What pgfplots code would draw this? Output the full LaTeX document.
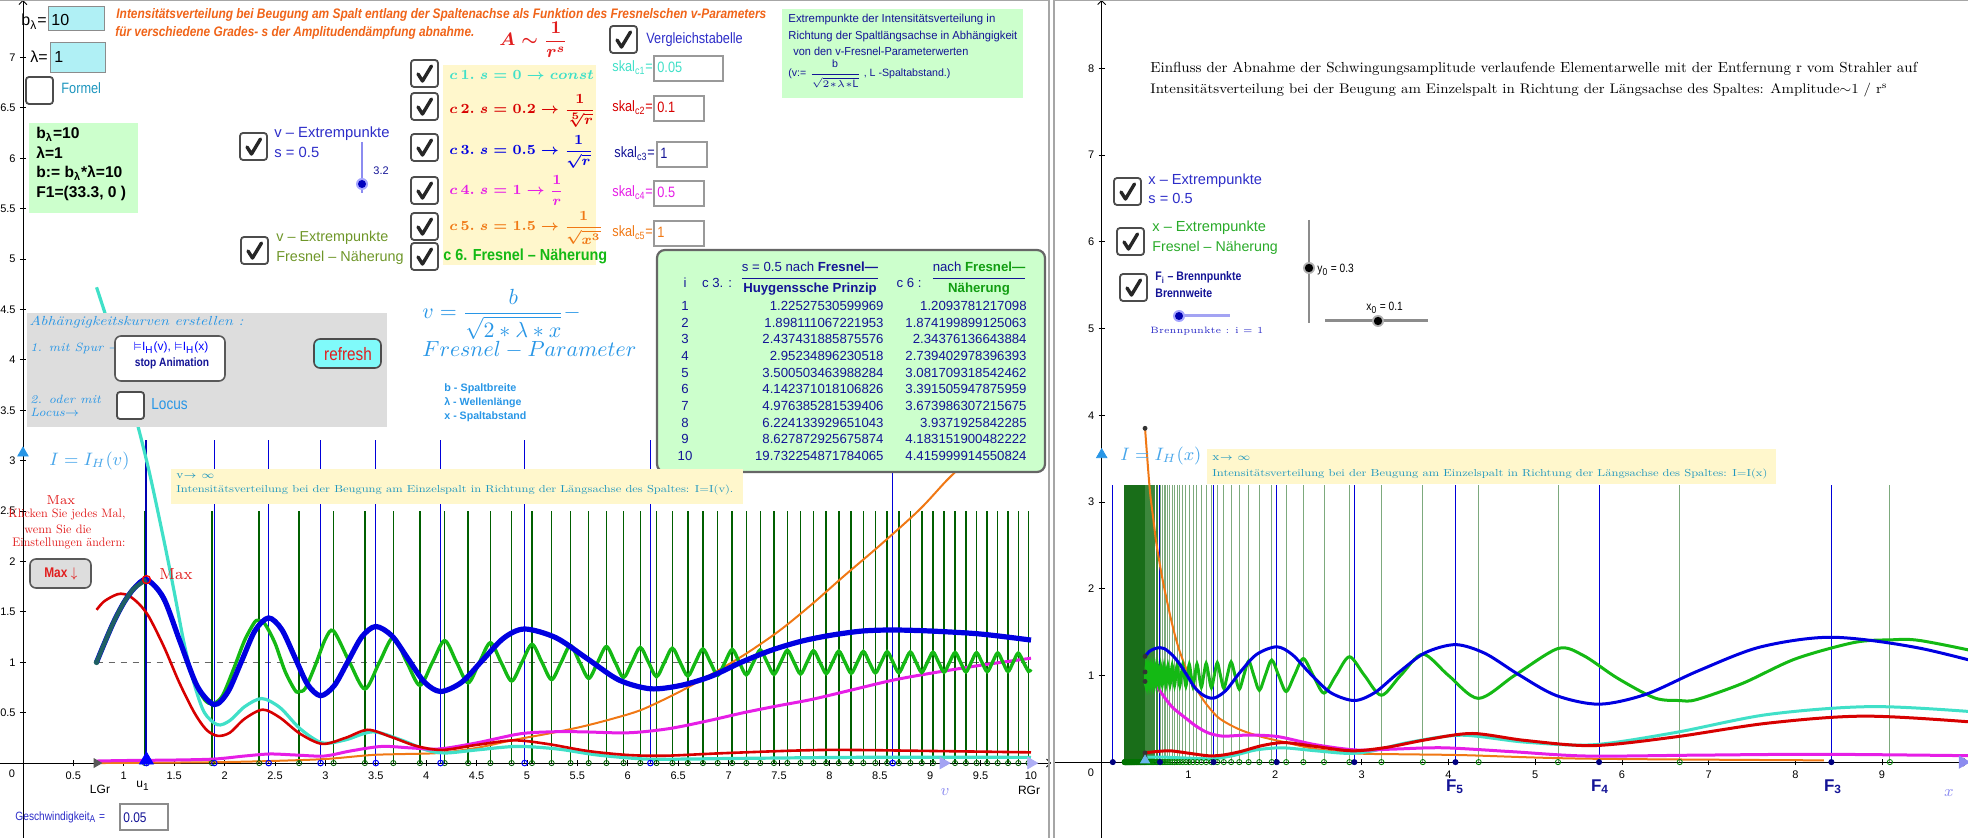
\documentclass[border=0pt]{standalone}
\usepackage{amsmath,amssymb}
\usepackage{graphicx}
\usepackage{pgfplots}
\pgfplotsset{compat=1.18}
\usepackage{pgfplotstable}
\usepackage{fontspec}
\setsansfont{Liberation Sans}
\usetikzlibrary{arrows.meta}

\definecolor{cC}{RGB}{64,224,200}
\definecolor{cR}{RGB}{215,0,0}
\definecolor{cB}{RGB}{0,0,225}
\definecolor{cM}{RGB}{230,30,230}
\definecolor{cO}{RGB}{240,120,20}
\definecolor{cG}{RGB}{20,185,20}
\definecolor{cDG}{RGB}{0,95,0}
\definecolor{cTeal}{RGB}{30,95,100}
\definecolor{gLight}{RGB}{125,170,125}
\definecolor{gMid}{RGB}{60,135,60}
\definecolor{gDark}{RGB}{25,110,25}
\definecolor{tOrange}{RGB}{240,100,25}
\definecolor{tBlue}{RGB}{45,45,200}
\definecolor{tDBlue}{RGB}{20,20,150}
\definecolor{tSky}{RGB}{40,150,230}
\definecolor{tOlive}{RGB}{110,150,40}
\definecolor{tRed}{RGB}{225,30,30}
\definecolor{tGreen}{RGB}{40,170,40}
\definecolor{boxGreen}{RGB}{204,255,204}
\definecolor{boxYellow}{RGB}{255,247,204}
\definecolor{boxGray}{RGB}{221,221,221}
\definecolor{boxCyan}{RGB}{176,240,245}
\definecolor{btnCyan}{RGB}{128,250,250}
\definecolor{tLav}{RGB}{140,140,240}
\definecolor{tTeal}{RGB}{30,150,190}

\newcommand{\myfs}[1]{\fontsize{#1}{#1}\selectfont}
\newcommand{\myfit}[3]{\resizebox{#1pt}{#2pt}{#3}}
\newcommand{\mycz}[1]{\scalebox{0.85}[1]{#1}}
\newcommand{\mychk}[2]{\begin{scope}[shift={(#1,#2)}]
 \draw[rounded corners=1.5pt, line width=0.9pt, draw=black!70, fill=white] (0,0) rectangle (27,27);
 \draw[line width=1.7pt, black!85, line cap=round, line join=round] (7,14) -- (11.5,21) -- (20.5,6);
 \end{scope}}
\newcommand{\myunchk}[2]{\begin{scope}[shift={(#1,#2)}]
 \draw[rounded corners=1.5pt, line width=0.9pt, draw=black!70, fill=white] (0,0) rectangle (27,27);
 \end{scope}}

% ---------------- data (v = Fresnel parameter, I = intensity)
\pgfplotstableread{
v I
0.73 4.72
0.85 4.35
1.00 3.86
1.10 3.50
1.25 2.90
1.40 2.20
1.50 1.70
1.60 1.18
1.70 0.78
1.80 0.50
1.93 0.38
2.05 0.42
2.20 0.56
2.37 0.64
2.55 0.55
2.75 0.34
2.97 0.20
3.20 0.23
3.47 0.31
3.75 0.23
4.00 0.13
4.19 0.10
4.50 0.13
4.90 0.165
5.30 0.14
5.70 0.08
6.17 0.04
6.60 0.04
7.00 0.045
7.50 0.05
8.00 0.055
8.60 0.058
9.20 0.058
10.0 0.056
}\tC

\pgfplotstableread{
v I
0.73 1.52
0.80 1.60
0.90 1.66
0.97 1.68
1.05 1.66
1.15 1.58
1.25 1.45
1.40 1.15
1.55 0.80
1.70 0.50
1.82 0.33
1.93 0.27
2.05 0.30
2.20 0.44
2.38 0.53
2.55 0.45
2.75 0.29
2.97 0.19
3.20 0.25
3.42 0.33
3.65 0.26
3.90 0.17
4.16 0.13
4.50 0.18
4.87 0.225
5.20 0.19
5.60 0.12
6.00 0.08
6.38 0.073
7.00 0.10
7.95 0.13
9.00 0.12
10.0 0.106
}\tR

\pgfplotstableread{
v I
0.73 0.02
1.00 0.025
1.50 0.03
1.90 0.04
2.20 0.07
2.45 0.09
2.70 0.08
2.99 0.07
3.25 0.12
3.56 0.165
3.85 0.15
4.13 0.14
4.50 0.20
4.93 0.29
5.25 0.31
5.54 0.31
6.00 0.30
6.40 0.34
6.80 0.42
7.15 0.50
7.50 0.57
7.82 0.63
8.20 0.72
8.62 0.82
9.00 0.89
9.50 0.97
10.0 1.04
}\tM

\pgfplotstableread{
v I
0.73 0.00
1.50 0.005
2.00 0.01
2.45 0.02
3.00 0.04
3.46 0.08
3.80 0.09
4.13 0.10
4.50 0.15
4.87 0.23
5.20 0.29
5.54 0.36
5.85 0.44
6.14 0.53
6.50 0.70
6.81 0.87
7.15 1.07
7.50 1.31
7.82 1.57
8.15 1.86
8.49 2.15
8.89 2.51
9.16 2.80
9.50 3.15
10.0 3.85
}\tO

\pgfplotstableread{
v I
0.73 1.00
0.80 1.17
0.90 1.40
1.00 1.59
1.10 1.73
1.225 1.82
1.393 1.64
1.56 1.20
1.73 0.76
1.898 0.58
2.033 0.706
2.168 1.01
2.302 1.314
2.437 1.44
2.566 1.327
2.695 1.054
2.823 0.781
2.952 0.668
3.089 0.769
3.226 1.012
3.363 1.254
3.500 1.355
3.661 1.261
3.821 1.033
3.982 0.804
4.142 0.71
4.351 0.801
4.559 1.02
4.768 1.239
4.976 1.33
5.288 1.243
5.600 1.034
5.912 0.824
6.224 0.737
6.525 0.77
6.825 0.86
7.126 1.0
7.426 1.12
7.727 1.21
8.027 1.27
8.330 1.31
8.628 1.32
9.0 1.31
9.5 1.28
10.0 1.22
}\tB

\pgfplotstableread{
v I
0.73 1.00
0.80 1.17
0.90 1.40
1.00 1.59
1.10 1.73
1.225 1.82
}\tT

\pgfplotstableread{
v I
0.73 1.00
0.80 1.17
0.90 1.40
1.00 1.60
1.10 1.74
1.209 1.80
1.30 1.76
1.40 1.61
1.50 1.37
1.60 1.08
1.70 0.81
1.80 0.63
1.874 0.585
1.95 0.63
2.00 0.71
2.10 0.96
2.20 1.22
2.30 1.40
2.344 1.41
2.40 1.38
2.50 1.19
2.60 0.91
2.70 0.72
2.739 0.71
2.80 0.74
2.90 0.97
3.00 1.23
3.082 1.31
3.240 1.00
3.392 0.735
3.536 1.00
3.674 1.245
3.808 1.00
3.937 0.771
4.062 1.00
4.183 1.215
4.301 1.00
4.416 0.796
4.528 1.00
4.637 1.194
4.743 1.00
4.848 0.814
4.950 1.00
5.050 1.178
5.148 1.00
5.244 0.828
5.339 1.00
5.431 1.166
5.523 1.00
5.613 0.840
5.701 1.00
5.788 1.156
5.874 1.00
5.958 0.849
6.042 1.00
6.124 1.147
6.205 1.00
6.285 0.857
6.364 1.00
6.442 1.140
6.519 1.00
6.596 0.863
6.671 1.00
6.745 1.133
6.819 1.00
6.892 0.869
6.964 1.00
7.036 1.128
7.106 1.00
7.176 0.875
7.246 1.00
7.314 1.123
7.382 1.00
7.450 0.879
7.517 1.00
7.583 1.119
7.649 1.00
7.714 0.883
7.778 1.00
7.842 1.115
7.906 1.00
7.969 0.887
8.031 1.00
8.093 1.111
8.155 1.00
8.216 0.890
8.277 1.00
8.337 1.108
8.396 1.00
8.456 0.894
8.515 1.00
8.573 1.105
8.631 1.00
8.689 0.896
8.746 1.00
8.803 1.102
8.860 1.00
8.916 0.899
8.972 1.00
9.028 1.100
9.083 1.00
9.138 0.901
9.192 1.00
9.247 1.097
9.301 1.00
9.354 0.904
9.407 1.00
9.460 1.095
9.513 1.00
9.566 0.906
9.618 1.00
9.670 1.093
9.721 1.00
9.772 0.908
9.823 1.00
9.874 1.091
9.925 1.00
9.975 0.910
10.0 0.93
}\tG

\pgfplotstableread{
v h z
1.2094 2.5 0
1.8742 2.5 0
2.3438 2.5 0
2.7394 2.5 0
3.0817 2.5 0
3.3915 2.5 0
3.6740 2.5 0
3.9372 2.5 0
4.1832 2.5 0
4.4160 2.5 0
4.6368 2.5 0
4.8477 2.5 0
5.0498 2.5 0
5.2440 2.5 0
5.4314 2.5 0
5.6125 2.5 0
5.7879 2.5 0
5.9582 2.5 0
6.1237 2.5 0
6.2849 2.5 0
6.4420 2.5 0
6.5955 2.5 0
6.7454 2.5 0
6.8920 2.5 0
7.0356 2.5 0
7.1764 2.5 0
7.3144 2.5 0
7.4498 2.5 0
7.5829 2.5 0
7.7136 2.5 0
7.8422 2.5 0
7.9687 2.5 0
8.0932 2.5 0
8.2158 2.5 0
8.3367 2.5 0
8.4558 2.5 0
8.5732 2.5 0
8.6891 2.5 0
8.8034 2.5 0
8.9163 2.5 0
9.0277 2.5 0
9.1378 2.5 0
9.2466 2.5 0
9.3541 2.5 0
9.4604 2.5 0
9.5656 2.5 0
9.6695 2.5 0
9.7724 2.5 0
9.8742 2.5 0
9.9750 2.5 0
}\gL

\pgfplotstableread{
v h z
1.2253 3.2 0
1.8981 3.2 0
2.4374 3.2 0
2.9523 3.2 0
3.5005 3.2 0
4.1424 3.2 0
4.9764 3.2 0
6.2241 3.2 0
8.6279 3.2 0
}\bL

% right panel: Fresnel extremes, x = position along the slit axis
\pgfplotstableread{
x h z
9.091 3.2 0
6.667 3.2 0
5.263 3.2 0
4.348 3.2 0
3.704 3.2 0
3.226 3.2 0
2.857 3.2 0
2.564 3.2 0
2.326 3.2 0
2.128 3.2 0
1.961 3.2 0
1.818 3.2 0
1.695 3.2 0
1.587 3.2 0
1.493 3.2 0
1.408 3.2 0
1.333 3.2 0
1.266 3.2 0
1.205 3.2 0
1.149 3.2 0
1.099 3.2 0
1.053 3.2 0
1.010 3.2 0
0.971 3.2 0
0.935 3.2 0
0.901 3.2 0
0.870 3.2 0
0.840 3.2 0
0.813 3.2 0
0.787 3.2 0
0.763 3.2 0
0.741 3.2 0
0.719 3.2 0
0.699 3.2 0
0.680 3.2 0
0.662 3.2 0
}\gRa

\pgfplotstableread{
x h z
0.645 3.2 0
0.629 3.2 0
0.613 3.2 0
0.599 3.2 0
0.585 3.2 0
0.571 3.2 0
0.559 3.2 0
0.546 3.2 0
0.535 3.2 0
0.524 3.2 0
0.513 3.2 0
0.503 3.2 0
}\gRb

\pgfplotstableread{
x h z
0.493 3.2 0
0.483 3.2 0
0.474 3.2 0
0.465 3.2 0
0.457 3.2 0
0.448 3.2 0
0.441 3.2 0
0.433 3.2 0
0.426 3.2 0
0.418 3.2 0
0.412 3.2 0
0.405 3.2 0
0.398 3.2 0
0.392 3.2 0
0.386 3.2 0
0.380 3.2 0
0.375 3.2 0
0.369 3.2 0
0.364 3.2 0
0.358 3.2 0
0.353 3.2 0
0.348 3.2 0
0.344 3.2 0
0.339 3.2 0
0.334 3.2 0
0.330 3.2 0
0.326 3.2 0
0.322 3.2 0
0.317 3.2 0
0.313 3.2 0
0.310 3.2 0
0.306 3.2 0
0.302 3.2 0
0.299 3.2 0
0.295 3.2 0
0.292 3.2 0
0.288 3.2 0
0.285 3.2 0
0.282 3.2 0
0.279 3.2 0
0.275 3.2 0
0.272 3.2 0
0.270 3.2 0
0.267 3.2 0
0.264 3.2 0
}\gRc

\pgfplotstableread{
x h z
0.1284 3.2 0
0.6717 3.2 0
1.2907 3.2 0
2.0191 3.2 0
2.9139 3.2 0
4.0805 3.2 0
5.7365 3.2 0
8.416 3.2 0
}\bR

\begin{document}
\begin{tikzpicture}
\useasboundingbox (0,0) rectangle (984pt,-419pt);

% ================= LEFT PANEL =================
\begin{axis}[
 at={(0pt,0pt)}, anchor=north west,
 x=50.4pt, y=50.4pt,
 xmin=-0.228, xmax=10.2, ymin=-0.745, ymax=7.57,
 axis lines=middle,
 axis line style={black, line width=0.45pt},
 x axis line style={-{Straight Barb[length=2pt,width=4pt]}},
 y axis line style={-{Straight Barb[length=2pt,width=4pt]}},
 xtick={0.5,1,1.5,2,2.5,3,3.5,4,4.5,5,5.5,6,6.5,7,7.5,8,8.5,9,9.5,10},
 ytick={0.5,1,1.5,2,2.5,3,3.5,4,4.5,5,5.5,6,6.5,7},
 major tick length=3pt,
 tick style={black, line width=0.4pt},
 tick label style={font=\sffamily\fontsize{5.5}{6}\selectfont},
 /pgf/number format/assume math mode=true,
 xticklabel style={inner sep=1pt, yshift=-1.5pt},
 yticklabel style={inner sep=1pt, xshift=-1pt},
]
\addplot[black!60, dashed, line width=0.5pt] coordinates {(0.73,1) (10,1)};
\addplot[ycomb, cDG, line width=0.75pt] table[x=v,y=h] \gL;
\addplot[ycomb, blue!85!black, line width=0.45pt] table[x=v,y=h] \bL;
\addplot[ycomb, blue!70!black, line width=1pt] coordinates {(1.2253,3.2)};
\addplot[cO, line width=1pt, smooth] table[x=v,y=I] \tO;
\addplot[cC, line width=1.6pt, smooth] table[x=v,y=I] \tC;
\addplot[cM, line width=1.5pt, smooth] table[x=v,y=I] \tM;
\addplot[cR, line width=1.3pt, smooth] table[x=v,y=I] \tR;
\addplot[cG, line width=1.7pt, smooth] table[x=v,y=I] \tG;
\addplot[cB, line width=2.6pt, smooth] table[x=v,y=I] \tB;
\addplot[cTeal, line width=2.2pt, smooth] table[x=v,y=I] \tT;
\addplot[only marks, mark=o, mark size=1.3pt, cDG, mark options={line width=0.4pt}] table[x=v,y=z] \gL;
\addplot[only marks, mark=o, mark size=1.4pt, blue, mark options={line width=0.5pt}] table[x=v,y=z] \bL;
\addplot[only marks, mark=o, mark size=2pt, red, mark options={line width=0.7pt}] coordinates {(1.225,1.82)};
\addplot[only marks, mark=*, mark size=1.2pt, cTeal] coordinates {(0.73,1.0)};
\addplot[only marks, mark=triangle*, mark size=4pt, blue] coordinates {(1.225,0.03)};
\addplot[only marks, mark=triangle*, mark size=2.5pt, black!65, mark options={rotate=-90}] coordinates {(0.73,0)};
\addplot[only marks, mark=triangle*, mark size=3.3pt, tLav!80, mark options={rotate=-90}] coordinates {(9.13,0)};
\addplot[only marks, mark=triangle*, mark size=3.3pt, tLav!70, mark options={rotate=-90}] coordinates {(10,0)};
\addplot[only marks, mark=triangle*, mark size=3pt, tSky] coordinates {(0,3.075)};
\end{axis}

% ================= RIGHT PANEL =================
\begin{axis}[
 at={(527pt,0pt)}, anchor=north west,
 x=43.35pt, y=43.35pt,
 xmin=-0.55, xmax=9.99, ymin=-0.874, ymax=8.79,
 axis lines=middle,
 axis line style={black, line width=0.45pt},
 x axis line style={-{Straight Barb[length=2pt,width=4pt]}},
 y axis line style={-{Straight Barb[length=2pt,width=4pt]}},
 xtick={1,2,3,4,5,6,7,8,9},
 ytick={1,2,3,4,5,6,7,8},
 major tick length=3pt,
 tick style={black, line width=0.4pt},
 tick label style={font=\sffamily\fontsize{5.5}{6}\selectfont},
 /pgf/number format/assume math mode=true,
 xticklabel style={inner sep=1pt, yshift=-1.5pt},
 yticklabel style={inner sep=1pt, xshift=-1pt},
]
\addplot[ycomb, gLight, line width=0.5pt] table[x=x,y=h] \gRa;
\addplot[ycomb, gMid, line width=0.6pt] table[x=x,y=h] \gRb;
\addplot[ycomb, gDark, line width=0.7pt] table[x=x,y=h] \gRc;
\addplot[ycomb, blue!85!black, line width=0.45pt] table[x=x,y=h] \bR;
\addplot[cO, line width=1pt, smooth, restrict x to domain=0.3:12] table[x expr={50/(\thisrow{v}*\thisrow{v})}, y=I] \tO;
\addplot[cC, line width=1.5pt, smooth, restrict x to domain=0.3:12] table[x expr={50/(\thisrow{v}*\thisrow{v})}, y=I] \tC;
\addplot[cM, line width=1.5pt, smooth, restrict x to domain=0.3:12] table[x expr={50/(\thisrow{v}*\thisrow{v})}, y=I] \tM;
\addplot[cR, line width=1.5pt, smooth, restrict x to domain=0.3:12] table[x expr={50/(\thisrow{v}*\thisrow{v})}, y=I] \tR;
\addplot[cG, line width=1.5pt, smooth, restrict x to domain=0.3:12] table[x expr={50/(\thisrow{v}*\thisrow{v})}, y=I] \tG;
\addplot[cB, line width=1.5pt, smooth, restrict x to domain=0.3:12] table[x expr={50/(\thisrow{v}*\thisrow{v})}, y=I] \tB;
\addplot[only marks, mark=o, mark size=1.3pt, green!50!black, mark options={line width=0.4pt}] table[x=x,y=z] \gRa;
\addplot[only marks, mark=o, mark size=1.3pt, green!50!black, mark options={line width=0.4pt}] table[x=x,y=z] \gRb;
\addplot[only marks, mark=o, mark size=1.3pt, green!45!black, mark options={line width=0.4pt}] table[x=x,y=z] \gRc;
\addplot[only marks, mark=*, mark size=1.3pt, blue!50!black] table[x=x,y=z] \bR;
\addplot[only marks, mark=*, mark size=1pt, black!80] coordinates {(0.5,3.85) (0.5,1.22) (0.5,1.04) (0.5,0.93) (0.5,0.106) (0.5,0.056)};
\addplot[only marks, mark=triangle*, mark size=2.6pt, tSky!70] coordinates {(0.5,0.02)};
\addplot[only marks, mark=triangle*, mark size=3.5pt, tLav, mark options={rotate=-90}] coordinates {(9.93,0)};
\addplot[only marks, mark=triangle*, mark size=3pt, tSky] coordinates {(0,3.545)};
\end{axis}

\begin{scope}[x=0.5pt,y=-0.5pt]
\draw[black!35, line width=0.6pt] (0,0.6) -- (1049,0.6) -- (1049,838);
\draw[black!35, line width=0.6pt] (1054,838) -- (1054,0.6) -- (1968,0.6);

\node[inner sep=0] at (12,774) {\sffamily\myfs{5.5}0};
\node[inner sep=0] at (1091,773) {\sffamily\myfs{5.5}0};

\node[anchor=base west, inner sep=0, text=tOrange] at (116,19) {\myfit{325}{5}{\sffamily\bfseries\itshape Intensitätsverteilung bei Beugung am Spalt entlang der Spaltenachse als Funktion des Fresnelschen v-Parameters}};
\node[anchor=base west, inner sep=0, text=tOrange] at (115,37) {\myfit{179.5}{5}{\sffamily\bfseries\itshape für verschiedene Grades- s der Amplitudendämpfung abnahme.}};

\draw[black!45, line width=0.5pt, fill=boxCyan] (48,7) rectangle (104,31);
\node[anchor=base west, inner sep=0] at (51,26) {\sffamily\myfs{8}10};
\node[anchor=base east, inner sep=0] at (47,26) {\sffamily\myfs{8}b\textsubscript{λ}=};
\draw[black!45, line width=0.5pt, fill=boxCyan] (50,43) rectangle (105,73);
\node[anchor=base west, inner sep=0] at (54,63) {\sffamily\myfs{8}1};
\node[anchor=base east, inner sep=0] at (48,63) {\sffamily\myfs{8}λ=};
\myunchk{26}{77}
\node[anchor=base west, inner sep=0, text=tTeal] at (61,94) {\mycz{\sffamily\myfs{7.5}Formel}};

\fill[boxGreen] (29,123) rectangle (138,213);
\node[anchor=base west, inner sep=0] at (36,139) {\sffamily\bfseries\myfs{7.8}b\textsubscript{λ}=10};
\node[anchor=base west, inner sep=0] at (36,159) {\sffamily\bfseries\myfs{7.8}λ=1};
\node[anchor=base west, inner sep=0] at (36,178) {\sffamily\bfseries\myfs{7.8}b:= b\textsubscript{λ}*λ=10};
\node[anchor=base west, inner sep=0] at (36,198) {\sffamily\bfseries\myfs{7.8}F1=(33.3, 0 )};

\node[anchor=west, inner sep=0, text=tRed] at (499,40) {{\myfs{9}$\boldsymbol{A\sim\dfrac{1}{r^{s}}}$}};

\mychk{610}{26}
\node[anchor=base west, inner sep=0, text=tBlue] at (646,44) {\mycz{\sffamily\myfs{7.5}Vergleichstabelle}};

\fill[boxGreen] (782,9) rectangle (1023,98);
\node[anchor=base west, inner sep=0, text=tDBlue] at (788,23) {\myfit{103.5}{4.2}{\sffamily Extrempunkte der Intensitätsverteilung in}};
\node[anchor=base west, inner sep=0, text=tDBlue] at (788,40) {\myfit{114.5}{4.2}{\sffamily Richtung der Spaltlängsachse in Abhängigkeit}};
\node[anchor=base west, inner sep=0, text=tDBlue] at (793,56) {\myfit{87.5}{4.2}{\sffamily von den v-Fresnel-Parameterwerten}};
\node[anchor=west, inner sep=0, text=tDBlue] at (788,74) {\sffamily\myfs{5.3}(v:= $\dfrac{\text{b}}{\sqrt{2{*}\lambda{*}\text{L}}}$ , L -Spaltabstand.)};

\node[anchor=base west, inner sep=0, text=cC] at (612,72) {\mycz{\sffamily\myfs{7.5}skal\textsubscript{c1}=}};
\draw[black!40, line width=0.6pt, fill=white] (654,56) rectangle (723,81);
\node[anchor=base west, inner sep=0, text=cC] at (657,73) {\mycz{\sffamily\myfs{7.5}0.05}};
\node[anchor=base west, inner sep=0, text=cR] at (612,112) {\mycz{\sffamily\myfs{7.5}skal\textsubscript{c2}=}};
\draw[black!40, line width=0.6pt, fill=white] (654,96) rectangle (704,121);
\node[anchor=base west, inner sep=0, text=cR] at (657,113) {\mycz{\sffamily\myfs{7.5}0.1}};
\node[anchor=base west, inner sep=0, text=tDBlue] at (614,158) {\mycz{\sffamily\myfs{7.5}skal\textsubscript{c3}=}};
\draw[black!40, line width=0.6pt, fill=white] (657,142) rectangle (707,167);
\node[anchor=base west, inner sep=0, text=tDBlue] at (660,159) {\mycz{\sffamily\myfs{7.5}1}};
\node[anchor=base west, inner sep=0, text=cM] at (612,197) {\mycz{\sffamily\myfs{7.5}skal\textsubscript{c4}=}};
\draw[black!40, line width=0.6pt, fill=white] (654,181) rectangle (704,206);
\node[anchor=base west, inner sep=0, text=cM] at (657,198) {\mycz{\sffamily\myfs{7.5}0.5}};
\node[anchor=base west, inner sep=0, text=cO] at (612,237) {\mycz{\sffamily\myfs{7.5}skal\textsubscript{c5}=}};
\draw[black!40, line width=0.6pt, fill=white] (654,221) rectangle (704,246);
\node[anchor=base west, inner sep=0, text=cO] at (657,238) {\mycz{\sffamily\myfs{7.5}1}};

\fill[boxYellow] (443,65) rectangle (596,265);
\mychk{411}{60}
\mychk{411}{93}
\mychk{411}{134}
\mychk{411}{177}
\mychk{411}{213}
\mychk{411}{243}
\node[anchor=base west, inner sep=0, text=cC] at (449,80) {{\myfs{7.5}$\boldsymbol{c\,1.\;s=0\rightarrow const}$}};
\node[anchor=base west, inner sep=0, text=cR] at (449,114) {{\myfs{7.5}$\boldsymbol{c\,2.\;s=0.2\rightarrow\dfrac{1}{\sqrt[5]{r}}}$}};
\node[anchor=base west, inner sep=0, text=cB] at (449,155) {{\myfs{7.5}$\boldsymbol{c\,3.\;s=0.5\rightarrow\dfrac{1}{\sqrt{r}}}$}};
\node[anchor=base west, inner sep=0, text=cM] at (449,195) {{\myfs{7.5}$\boldsymbol{c\,4.\;s=1\rightarrow\dfrac{1}{r}}$}};
\node[anchor=base west, inner sep=0, text=cO] at (449,231) {{\myfs{7.5}$\boldsymbol{c\,5.\;s=1.5\rightarrow\dfrac{1}{\sqrt{x^{3}}}}$}};
\node[anchor=base west, inner sep=0, text=cG] at (443,261) {\scalebox{0.9}[1]{\sffamily\bfseries\myfs{8}c 6. Fresnel – Näherung}};

\mychk{240}{133}
\node[anchor=base west, inner sep=0, text=tBlue] at (274,138) {\sffamily\myfs{7.4}v – Extrempunkte};
\node[anchor=base west, inner sep=0, text=tBlue] at (274,158) {\sffamily\myfs{7.4}s = 0.5};
\draw[tLav, line width=1.2pt] (362,142) -- (362,193);
\fill[blue!35] (362,184) circle (6);
\fill[blue!75!black] (362,184) circle (4);
\node[anchor=base west, inner sep=0, text=tDBlue] at (373,175) {\sffamily\myfs{5.5}3.2};
\mychk{241}{237}
\node[anchor=base west, inner sep=0, text=tOlive] at (276,242) {\sffamily\myfs{7.2}v – Extrempunkte};
\node[anchor=base west, inner sep=0, text=tOlive] at (276,262) {\sffamily\myfs{7.2}Fresnel – Näherung};

\fill[boxGray] (27,313) rectangle (387,427);
\node[anchor=base west, inner sep=0, text=tSky] at (29,326) {\myfit{107}{4.7}{\itshape Abhängigkeitskurven erstellen :}};
\node[anchor=base west, inner sep=0, text=tSky] at (30,352) {\myfs{6}\itshape 1. mit Spur $\rightarrow$};
\draw[rounded corners=3pt, line width=0.8pt, draw=black!65, fill=white] (115,336) rectangle (225,381);
\node[inner sep=0, text=blue] at (171,348) {\sffamily\myfs{6}$\vDash$I\textsubscript{H}(v), $\vDash$I\textsubscript{H}(x)};
\node[inner sep=0, text=tDBlue] at (172,363) {\mycz{\sffamily\bfseries\myfs{6}stop Animation}};
\draw[rounded corners=3pt, line width=0.8pt, draw=black!70, fill=btnCyan] (314,339) rectangle (381,368);
\node[inner sep=0, text=tRed] at (348,354) {\mycz{\sffamily\myfs{9}refresh}};
\node[anchor=base west, inner sep=0, text=tSky] at (30,404) {\myfs{6}\itshape 2. oder mit};
\node[anchor=base west, inner sep=0, text=tSky] at (30,417) {\myfs{6}\itshape Locus$\rightarrow$};
\myunchk{117}{392}
\node[anchor=base west, inner sep=0, text=tSky] at (151,410) {\mycz{\sffamily\myfs{8}Locus}};

\node[anchor=base west, inner sep=0, text=tSky] at (422,319) {\myfs{11}$v=\dfrac{b}{\sqrt{2*\lambda*x}}-$};
\node[anchor=base west, inner sep=0, text=tSky] at (422,357) {\myfs{11}$Fresnel-Parameter$};
\node[anchor=base west, inner sep=0, text=tSky] at (444,392) {\myfit{36}{3.9}{\sffamily\bfseries b - Spaltbreite}};
\node[anchor=base west, inner sep=0, text=tSky] at (444,406) {\myfit{38.5}{3.9}{\sffamily\bfseries λ - Wellenlänge}};
\node[anchor=base west, inner sep=0, text=tSky] at (444,420) {\myfit{41}{3.9}{\sffamily\bfseries x - Spaltabstand}};

\draw[rounded corners=4pt, line width=1.1pt, draw=black!60, fill=boxGreen] (657,250) rectangle (1045,472);
\begin{scope}[every node/.style={inner sep=0, text=tDBlue, font=\sffamily\fontsize{6.6}{7}\selectfont}]
\node at (685,283) {i};
\node at (717,283) {c 3. :};
\node at (810,279) {$\dfrac{\text{s = 0.5 nach \textbf{Fresnel—}}}{\text{\textbf{Huygenssche Prinzip}}}$};
\node at (909,283) {c 6 :};
\node at (979,279) {$\dfrac{\text{nach \textcolor{cG!85!black}{\textbf{Fresnel—}}}}{\text{\textcolor{cG!85!black}{\textbf{Näherung}}}}$};
\foreach \a/\b [count=\k] in {1.22527530599969/1.2093781217098, 1.898111067221953/1.874199899125063, 2.437431885875576/2.34376136643884, 2.95234896230518/2.739402978396393, 3.500503463988284/3.081709318542462, 4.142371018106826/3.391505947875959, 4.976385281539406/3.673986307215675, 6.224133929651043/3.9371925842285, 8.627872925675874/4.183151900482222, 19.732254871784065/4.415999914550824} {
  \node[anchor=base] at (685,{310.5+16.67*(\k-1)}) {\k};
  \node[anchor=base east] at (884,{310.5+16.67*(\k-1)}) {\a};
  \node[anchor=base east] at (1027,{310.5+16.67*(\k-1)}) {\b};
}
\end{scope}

\node[anchor=base west, inner sep=0, text=tSky!85] at (49,466) {\myfs{9}$I=I_H(v)$};
\fill[boxYellow] (171,469) rectangle (743,504);
\node[anchor=base west, inner sep=0, text=tTeal] at (176,479) {\myfs{5.5}v$\rightarrow\infty$};
\node[anchor=base west, inner sep=0, text=tTeal] at (176,493) {\myfit{278.5}{3.8}{Intensitätsverteilung bei der Beugung am Einzelspalt in Richtung der Längsachse des Spaltes: I=I(v).}};

\node[anchor=base, inner sep=0, text=tRed] at (61,505) {\myfs{6.5}Max};
\node[anchor=base west, inner sep=0, text=tRed] at (8,518) {\myfit{58.5}{4.3}{Klicken Sie jedes Mal,}};
\node[anchor=base west, inner sep=0, text=tRed] at (24,534) {\myfit{33.5}{4.3}{wenn Sie die}};
\node[anchor=base west, inner sep=0, text=tRed] at (12,547) {\myfit{56.5}{4.3}{Einstellungen ändern:}};
\draw[rounded corners=3pt, line width=0.8pt, draw=black!65, fill=boxGray] (30,559) rectangle (91,588);
\node[inner sep=0, text=tRed] at (61,574) {\mycz{\sffamily\bfseries\myfs{7}Max $\downarrow$}};
\node[inner sep=0, text=tRed] at (176,574) {\myfs{8}Max};

\node[inner sep=0] at (100,789) {\sffamily\myfs{6}LGr};
\node[inner sep=0] at (143,786) {\sffamily\myfs{6}u\textsubscript{1}};
\node[inner sep=0, text=tLav] at (945,792) {\myfs{8}$v$};
\node[inner sep=0] at (1029,790) {\sffamily\myfs{6}RGr};

\node[anchor=base west, inner sep=0, text=tBlue] at (15,820) {\mycz{\sffamily\myfs{6}Geschwindigkeit\textsubscript{A} =}};
\draw[black!45, line width=0.6pt, fill=white] (120,804) rectangle (168,830);
\node[anchor=base west, inner sep=0, text=tDBlue] at (123,822) {\mycz{\sffamily\myfs{7}0.05}};

\node[anchor=base west, inner sep=0] at (1150,73) {\myfit{383.5}{5.2}{Einfluss der Abnahme der Schwingungsamplitude verlaufende Elementarwelle mit der Entfernung r vom Strahler auf}};
\node[anchor=base west, inner sep=0] at (1150,94) {\myfit{368.5}{5.2}{Intensitätsverteilung bei der Beugung am Einzelspalt in Richtung der Längsachse des Spaltes: Amplitude$\sim$1 / r\textsuperscript{s}}};

\mychk{1114}{178}
\node[anchor=base west, inner sep=0, text=tBlue] at (1148,185) {\sffamily\myfs{7.3}x – Extrempunkte};
\node[anchor=base west, inner sep=0, text=tBlue] at (1148,204) {\sffamily\myfs{7.3}s = 0.5};
\mychk{1117}{228}
\node[anchor=base west, inner sep=0, text=tGreen] at (1152,232) {\sffamily\myfs{7.3}x – Extrempunkte};
\node[anchor=base west, inner sep=0, text=tGreen] at (1152,252) {\sffamily\myfs{7.1}Fresnel – Näherung};
\mychk{1120}{274}
\node[anchor=base west, inner sep=0, text=tDBlue] at (1155,281) {\mycz{\sffamily\bfseries\myfs{6.2}F\textsubscript{i} – Brennpunkte}};
\node[anchor=base west, inner sep=0, text=tDBlue] at (1155,298) {\mycz{\sffamily\bfseries\myfs{6.2}Brennweite}};
\draw[tLav!80, line width=1.5pt] (1179,316) -- (1230,316);
\fill[blue!35] (1179,316) circle (6);
\fill[blue!70!black] (1179,316) circle (4);
\node[anchor=base west, inner sep=0, text=tBlue] at (1150,334) {\myfs{4.6}Brennpunkte : i = 1};
\draw[black!45, line width=1.2pt] (1309,220) -- (1309,323);
\fill[black!30] (1309,268) circle (6);
\fill[black] (1309,268) circle (4.2);
\node[anchor=base west, inner sep=0] at (1317,273) {\mycz{\sffamily\myfs{6}y\textsubscript{0} = 0.3}};
\draw[black!45, line width=1.5pt] (1325,321) -- (1428,321);
\fill[black!30] (1378,321) circle (6);
\fill[black] (1378,321) circle (4.2);
\node[anchor=base west, inner sep=0] at (1366,311) {\mycz{\sffamily\myfs{6}x\textsubscript{0} = 0.1}};

\node[anchor=base west, inner sep=0, text=tSky!85] at (1120,461) {\myfs{9}$I=I_H(x)$};
\fill[boxYellow] (1207,449) rectangle (1776,484);
\node[anchor=base west, inner sep=0, text=tTeal] at (1212,461) {\myfs{5.5}x$\rightarrow\infty$};
\node[anchor=base west, inner sep=0, text=tTeal] at (1212,477) {\myfit{277.5}{3.8}{Intensitätsverteilung bei der Beugung am Einzelspalt in Richtung der Längsachse des Spaltes: I=I(x)}};

\node[anchor=base, inner sep=0, text=tDBlue] at (1455,791) {\sffamily\bfseries\myfs{8.5}F\textsubscript{5}};
\node[anchor=base, inner sep=0, text=tDBlue] at (1600,791) {\sffamily\bfseries\myfs{8.5}F\textsubscript{4}};
\node[anchor=base, inner sep=0, text=tDBlue] at (1833,791) {\sffamily\bfseries\myfs{8.5}F\textsubscript{3}};
\node[inner sep=0, text=tLav] at (1949,793) {\myfs{8}$x$};
\end{scope}
\end{tikzpicture}
\end{document}
